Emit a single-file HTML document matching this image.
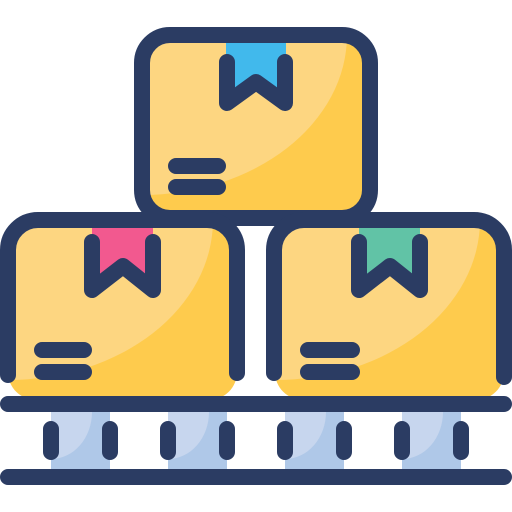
<!DOCTYPE html>
<html><head><style>html,body{margin:0;padding:0;background:#fff}svg{display:block}</style></head>
<body>
<svg width="512" height="512" viewBox="0 0 512 512" xmlns="http://www.w3.org/2000/svg">
<defs>
<clipPath id="ct"><rect x="142" y="35" width="228" height="183" rx="28"/></clipPath>
<clipPath id="cl"><rect x="8" y="220" width="229" height="180" rx="28"/></clipPath>
<clipPath id="cr"><rect x="275" y="220" width="229" height="180" rx="28"/></clipPath>
</defs>
<g stroke="#2B3C63" stroke-width="16" stroke-linecap="round" stroke-linejoin="round" fill="none">
<!-- top box -->
<g clip-path="url(#ct)">
<rect x="142" y="35" width="228" height="183" fill="#FECB4D" stroke="none"/>
<ellipse cx="142" cy="35" rx="205" ry="160" fill="#FDD681" stroke="none"/>
<path d="M226 35H286V103L256 82L226 103Z" fill="#41B9EC" stroke="none"/>
</g>
<rect x="142" y="35" width="228" height="183" rx="28"/>
<path d="M227 62V103L256 82L285 103V62"/>
<path d="M176 166H218M176 187H218"/>
<!-- left box -->
<g clip-path="url(#cl)">
<rect x="8" y="220" width="229" height="180" fill="#FECB4D" stroke="none"/>
<ellipse cx="8" cy="220" rx="205" ry="160" fill="#FDD681" stroke="none"/>
<path d="M92 220H153V290L123 266L92 290Z" fill="#F2598F" stroke="none"/>
</g>
<path d="M8 375V250A30 30 0 0 1 38 220H207A30 30 0 0 1 237 250V373"/>
<path d="M92 242V290L123 266L153 290V242"/>
<path d="M42 350H84M42 372H84"/>
<!-- right box -->
<g clip-path="url(#cr)">
<rect x="275" y="220" width="229" height="180" fill="#FECB4D" stroke="none"/>
<ellipse cx="275" cy="220" rx="205" ry="160" fill="#FDD681" stroke="none"/>
<path d="M359 220H420V290L390 266L359 290Z" fill="#61C3A6" stroke="none"/>
</g>
<path d="M274 373V250A30 30 0 0 1 304 220H474A30 30 0 0 1 504 250V377"/>
<path d="M359 242V290L390 266L420 290V242"/>
<path d="M308 350H352M308 372H352"/>
<!-- legs -->
<g stroke="none">
<rect x="51" y="412" width="59" height="57" fill="#AFC8E8"/>
<rect x="168" y="412" width="59" height="57" fill="#AFC8E8"/>
<rect x="285" y="412" width="59" height="57" fill="#AFC8E8"/>
<rect x="402" y="412" width="59" height="57" fill="#AFC8E8"/>
<path d="M51 412H92A41 47 0 0 1 51 459Z" fill="#C7D6EE"/>
<path d="M168 412H209A41 47 0 0 1 168 459Z" fill="#C7D6EE"/>
<path d="M285 412H326A41 47 0 0 1 285 459Z" fill="#C7D6EE"/>
<path d="M402 412H443A41 47 0 0 1 402 459Z" fill="#C7D6EE"/>
</g>
<path d="M8 404H504M8 477H504"/>
<path d="M51 429V452M110 429V452M168 429V452M227 429V452M285 429V452M344 429V452M402 429V452M461 429V452"/>
</g>
</svg>
</body></html>
